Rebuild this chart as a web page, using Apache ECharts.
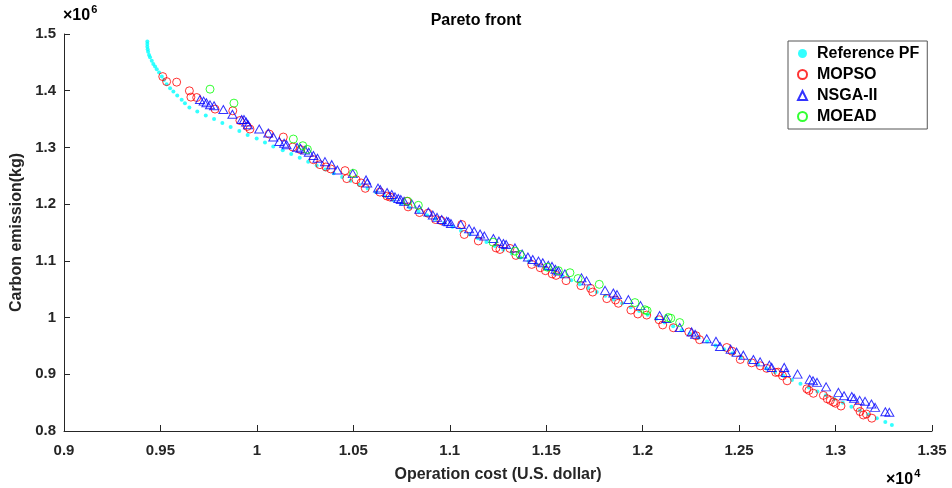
<!DOCTYPE html>
<html>
<head>
<meta charset="utf-8">
<script src="https://cdn.jsdelivr.net/npm/echarts@6/dist/echarts.min.js"></script>
<style>
html,body{margin:0;padding:0;background:#fff;}
#chart{width:952px;height:488px;}
</style>
</head>
<body>
<div id="chart"></div>
<script>
// Units: cost in 10^4 U.S. dollar, emission in 10^6 kg
const xTicks = [0.9, 0.95, 1, 1.05, 1.1, 1.15, 1.2, 1.25, 1.3, 1.35];
const yTicks = [0.8, 0.9, 1, 1.1, 1.2, 1.3, 1.4, 1.5];

const pfCost = [0.9432,0.9432,0.9432,0.9434,0.9436,0.9441,0.9446,0.9455,0.9463,0.9472,0.9481,0.9493,0.9507,0.9518,0.9532,0.9550,0.9567,0.9587,0.9610,0.9627,0.9650,0.9691,0.9735,0.9778,0.9821,0.9864,0.9909,0.9952,0.9999,1.0042,1.0085,
1.0134,1.0178,1.0222,1.0266,1.0310,1.0354,1.0398,1.0442,1.0486,1.0530,1.0574,1.0618,1.0662,1.0706,1.0750,1.0794,1.0838,1.0882,1.0926,1.0970,1.1014,1.1058,1.1102,1.1146,1.1190,1.1234,1.1278,1.1322,1.1366,1.1410,1.1454,1.1498,1.1542,1.1586,1.1630,1.1674,1.1718,1.1762,1.1806,1.1850,1.1894,1.1938,1.1982,1.2026,1.2070,1.2114,1.2158,1.2202,1.2246,1.2290,1.2334,1.2378,1.2422,1.2466,1.2510,1.2554,1.2598,1.2642,1.2686,1.2730,1.2774,1.2818,1.2862,1.2906,1.2950,1.2994,1.3038,1.3082,1.3126,1.3170,1.3214,1.3258,1.3292];
const pfEmission = [1.4868,1.4824,1.4777,1.4731,1.4689,1.4631,1.4590,1.4530,1.4472,1.4425,1.4379,1.4319,1.4249,1.4191,1.4115,1.4045,1.3985,1.3915,1.3839,1.3781,1.3704,1.3633,1.3563,1.3500,1.3429,1.3359,1.3289,1.3218,1.3159,1.3088,1.3018,
1.2951,1.2883,1.2816,1.2748,1.2681,1.2613,1.2546,1.2478,1.2411,1.2343,1.2276,1.2208,1.2141,1.2073,1.2006,1.1938,1.1871,1.1803,1.1736,1.1668,1.1601,1.1533,1.1466,1.1398,1.1331,1.1263,1.1196,1.1128,1.1061,1.0993,1.0926,1.0858,1.0791,1.0723,1.0656,1.0588,1.0521,1.0453,1.0386,1.0318,1.0251,1.0183,1.0116,1.0048,0.9981,0.9913,0.9846,0.9778,0.9711,0.9643,0.9576,0.9508,0.9441,0.9373,0.9306,0.9238,0.9171,0.9103,0.9036,0.8968,0.8901,0.8833,0.8766,0.8698,0.8631,0.8563,0.8496,0.8428,0.8361,0.8293,0.8226,0.8158,0.8106];

const mopsoCost = [0.9512,0.9532,0.9584,0.9650,0.9658,0.9688,0.9783,0.9875,0.9912,0.9950,0.9964,1.0064,1.0137,1.0186,1.0227,1.0293,1.0327,1.0358,1.0383,1.0457,1.0466,1.0514,1.0540,1.0562,1.0638,1.0675,1.0690,1.0778,1.0784,1.0843,1.0887,1.0926,1.0955,1.1062,1.1075,1.1148,1.1240,1.1260,1.1312,1.1343,1.1425,1.1469,1.1496,1.1531,1.1551,1.1603,1.1680,1.1730,1.1741,1.1814,1.1859,1.1874,1.1939,1.1975,1.2021,1.2085,1.2104,1.2159,1.2239,1.2277,1.2295,1.2436,1.2463,1.2506,1.2565,1.2610,1.2643,1.2690,1.2703,1.2725,1.2749,1.2851,1.2862,1.2885,1.2937,1.2957,1.2973,1.2989,1.3000,1.3028,1.3114,1.3127,1.3144,1.3160,1.3188];
const mopsoEmission = [1.4249,1.4161,1.4151,1.3998,1.3887,1.3880,1.3676,1.3646,1.3475,1.3370,1.3324,1.3236,1.3183,1.3007,1.2960,1.2784,1.2696,1.2656,1.2621,1.2591,1.2450,1.2432,1.2374,1.2279,1.2212,1.2142,1.2125,1.2051,1.1952,1.1852,1.1840,1.1729,1.1711,1.1641,1.1465,1.1351,1.1228,1.1201,1.1219,1.1096,1.0937,1.0879,1.0827,1.0770,1.0744,1.0651,1.0563,1.0515,1.0450,1.0334,1.0310,1.0252,1.0132,1.0063,1.0044,0.9961,0.9870,0.9821,0.9747,0.9680,0.9610,0.9472,0.9407,0.9261,0.9202,0.9149,0.9105,0.9033,0.9038,0.8973,0.8885,0.8744,0.8716,0.8665,0.8628,0.8568,0.8540,0.8510,0.8489,0.8440,0.8417,0.8343,0.8282,0.8299,0.8226];

const nsgaCost = [0.9705,0.9724,0.9738,0.9757,0.9778,0.9826,0.9873,0.9921,0.9933,0.9944,0.9954,1.0012,1.0059,1.0085,1.0116,1.0141,1.0154,1.0208,1.0226,1.0250,1.0269,1.0293,1.0314,1.0353,1.0388,1.0417,1.0497,1.0566,1.0572,1.0628,1.0640,1.0675,1.0699,1.0716,1.0733,1.0746,1.0763,1.0803,1.0842,1.0889,1.0912,1.0934,1.0958,1.0984,1.0993,1.1006,1.1057,1.1100,1.1126,1.1157,1.1179,1.1226,1.1255,1.1278,1.1292,1.1338,1.1375,1.1405,1.1430,1.1460,1.1482,1.1511,1.1530,1.1548,1.1563,1.1597,1.1683,1.1709,1.1805,1.1848,1.1867,1.1926,1.1989,1.2088,1.2123,1.2192,1.2254,1.2272,1.2332,1.2380,1.2401,1.2456,1.2487,1.2522,1.2574,1.2609,1.2657,1.2669,1.2734,1.2742,1.2803,1.2866,1.2883,1.2904,1.2951,1.3015,1.3044,1.3084,1.3096,1.3125,1.3153,1.3186,1.3205,1.3258,1.3279];
const nsgaEmission = [1.3845,1.3816,1.3787,1.3751,1.3734,1.3669,1.3584,1.3493,1.3493,1.3449,1.3400,1.3326,1.3254,1.3183,1.3106,1.3074,1.3048,1.3004,1.2983,1.2955,1.2916,1.2858,1.2810,1.2749,1.2696,1.2603,1.2538,1.2427,1.2374,1.2283,1.2256,1.2204,1.2169,1.2128,1.2098,1.2081,1.2051,1.2005,1.1910,1.1861,1.1808,1.1767,1.1729,1.1699,1.1688,1.1658,1.1641,1.1565,1.1523,1.1474,1.1437,1.1395,1.1347,1.1307,1.1289,1.1228,1.1122,1.1069,1.1025,1.0995,1.0967,1.0920,1.0902,1.0850,1.0820,1.0770,1.0700,1.0647,1.0480,1.0433,1.0405,1.0317,1.0211,1.0035,0.9982,0.9824,0.9747,0.9706,0.9627,0.9583,0.9490,0.9443,0.9390,0.9337,0.9261,0.9219,0.9161,0.9121,0.9121,0.9033,0.9003,0.8910,0.8885,0.8857,0.8778,0.8681,0.8621,0.8607,0.8577,0.8540,0.8523,0.8475,0.8417,0.8340,0.8329];

const moeadCost = [0.9757,0.9881,1.0189,1.0238,1.0262,1.0500,1.0782,1.0837,1.1224,1.1338,1.1364,1.1506,1.1563,1.1623,1.1665,1.1775,1.1960,1.2012,1.2023,1.2133,1.2146,1.2192];
const moeadEmission = [1.4027,1.3781,1.3148,1.3030,1.2965,1.2543,1.2051,1.1979,1.1330,1.1171,1.1113,1.0888,1.0827,1.0791,1.0688,1.0586,1.0264,1.0137,1.0120,1.0000,0.9988,0.9912];

const seriesNames = ['Reference PF', 'MOPSO', 'NSGA-II', 'MOEAD'];

function pairs(xs, ys) { return xs.map((x, i) => [x, ys[i]]); }

const FONT = 'Arial, "Liberation Sans", Helvetica, sans-serif';
const AXC = '#262626';

const chart = echarts.init(document.getElementById('chart'), null, {renderer: 'canvas'});
chart.setOption({
  animation: false,
  backgroundColor: '#fff',
  title: {
    text: 'Pareto front', left: 'center', top: 8,
    textStyle: {fontFamily: FONT, fontSize: 16, fontWeight: 'bold', color: '#000'}
  },
  grid: {left: 64, right: 20, top: 34, bottom: 56, containLabel: false},
  legend: {
    orient: 'vertical', left: 788, top: 41,
    data: seriesNames,
    itemWidth: 9, itemHeight: 9, itemGap: 4,
    padding: [4, 8, 4, 9],
    borderColor: '#555', borderWidth: 1, backgroundColor: '#fff',
    textStyle: {fontFamily: FONT, fontSize: 16, fontWeight: 'bold', color: '#000', padding: [0,0,0,5], lineHeight: 17}
  },
  xAxis: {
    type: 'value', min: xTicks[0], max: xTicks[xTicks.length - 1], interval: 0.05,
    name: 'Operation cost (U.S. dollar)', nameLocation: 'middle', nameGap: 36,
    nameTextStyle: {fontFamily: FONT, fontSize: 16, fontWeight: 'bold', color: AXC},
    axisLine: {show: true, lineStyle: {color: AXC, width: 1}},
    axisTick: {show: true, inside: true, length: 6, lineStyle: {color: AXC}},
    axisLabel: {fontFamily: FONT, fontSize: 15, fontWeight: 'bold', color: AXC, margin: 12,
      formatter: v => String(+v.toFixed(2))},
    splitLine: {show: false}
  },
  yAxis: {
    type: 'value', min: yTicks[0], max: yTicks[yTicks.length - 1], interval: 0.1,
    name: 'Carbon emission(kg)', nameLocation: 'middle', nameGap: 38,
    nameTextStyle: {fontFamily: FONT, fontSize: 16, fontWeight: 'bold', color: AXC},
    axisLine: {show: true, lineStyle: {color: AXC, width: 1}},
    axisTick: {show: true, inside: true, length: 6, lineStyle: {color: AXC}},
    axisLabel: {fontFamily: FONT, fontSize: 15, fontWeight: 'bold', color: AXC, margin: 8,
      formatter: v => String(+v.toFixed(2))},
    splitLine: {show: false}
  },
  graphic: [
    {type: 'text', left: 63, top: 4, style: {
      text: '{a|×10}{b|6}', rich: {
        a: {fontFamily: FONT, fontSize: 16, fontWeight: 'bold', color: AXC, verticalAlign: 'bottom'},
        b: {fontFamily: FONT, fontSize: 11, fontWeight: 'bold', color: AXC, verticalAlign: 'top', padding: [0,0,9,1]}
      }}},
    {type: 'text', left: 886, top: 468, style: {
      text: '{a|×10}{b|4}', rich: {
        a: {fontFamily: FONT, fontSize: 16, fontWeight: 'bold', color: AXC, verticalAlign: 'bottom'},
        b: {fontFamily: FONT, fontSize: 11, fontWeight: 'bold', color: AXC, verticalAlign: 'top', padding: [0,0,9,1]}
      }}}
  ],
  series: [
    {name: seriesNames[0], type: 'scatter', data: pairs(pfCost, pfEmission),
     symbol: 'circle', symbolSize: 4, itemStyle: {color: '#00ffff'}, z: 1},
    {name: seriesNames[1], type: 'scatter', data: pairs(mopsoCost, mopsoEmission),
     symbol: 'circle', symbolSize: 8, itemStyle: {color: 'rgba(0,0,0,0)', borderColor: '#ff0000', borderWidth: 1}, z: 2},
    {name: seriesNames[2], type: 'scatter', data: pairs(nsgaCost, nsgaEmission),
     symbol: 'triangle', symbolSize: [9, 8], itemStyle: {color: 'rgba(0,0,0,0)', borderColor: '#0000ff', borderWidth: 1}, z: 3},
    {name: seriesNames[3], type: 'scatter', data: pairs(moeadCost, moeadEmission),
     symbol: 'circle', symbolSize: 8, itemStyle: {color: 'rgba(0,0,0,0)', borderColor: '#00ff00', borderWidth: 1}, z: 4}
  ]
});
</script>
</body>
</html>
